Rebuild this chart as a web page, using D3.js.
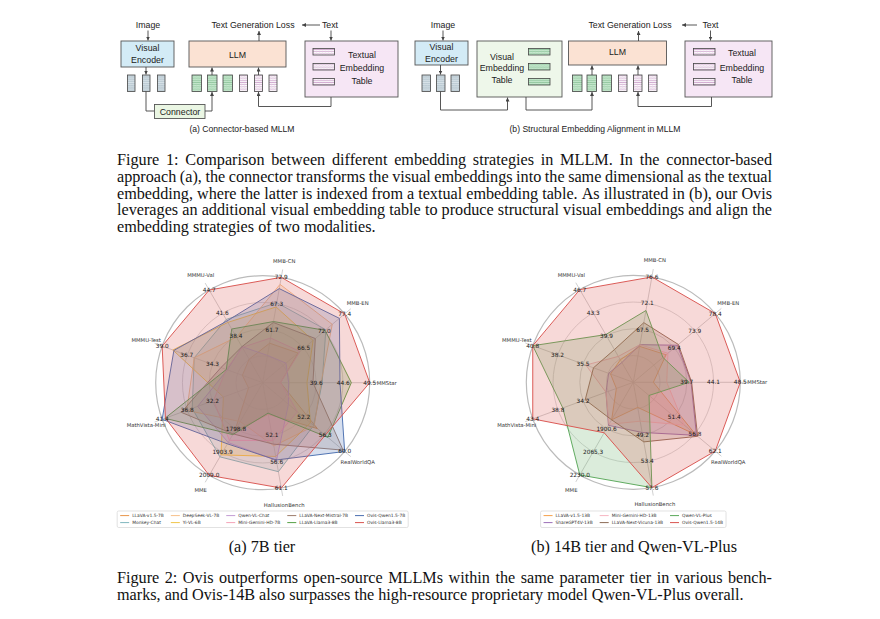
<!DOCTYPE html>
<html><head><meta charset="utf-8">
<script src="https://cdn.jsdelivr.net/npm/d3@7"></script>
<style>body{margin:0;background:#fff}svg{display:block}</style>
</head><body><svg id="fig" width="880" height="619"></svg>
<script>
// ---------------- data ----------------
const axes = ["MMStar","MMB-EN","MMB-CN","MMMU-Val","MMMU-Test","MathVista-Mini","MME","HallusionBench","RealWorldQA"];

const ticksA = [[39.6,44.6,49.5],[66.5,72.0,77.4],[61.7,67.3,72.9],[38.4,41.6,44.7],[34.3,36.7,39.0],[32.2,36.8,41.4],[1798.8,1903.9,2009.0],[52.1,56.6,61.1],[52.2,56.3,60.0]];
const modelsA = ["LLaVA-v1.5-7B","Monkey-Chat","DeepSeek-VL-7B","Yi-VL-6B","Qwen-VL-Chat","Mini-Gemini-HD-7B","LLaVA-Next-Mistral-7B","LLaVA-Llama3-8B","Ovis-Qwen1.5-7B","Ovis-Llama3-8B"];
const colorsA = ["#e8954a","#7fb7be","#f7c08a","#f0c548","#c39bd3","#f4a3b8","#9c7b6b","#55a045","#4a6fb0","#d9534f"];
const valuesA = [
  [33.0,65.0,58.9,35.3,31.5,25.6,1808,48.5,54.8],
  [40.7,72.4,67.5,40.7,36.0,35.9,1925,58.3,54.1],
  [40.5,74.1,71.4,38.3,36.0,36.9,1765,53.9,54.2],
  [37.9,69.0,66.6,40.3,38.0,30.2,1916,55.7,53.5],
  [34.5,61.8,56.3,37.0,32.9,34.9,1860,56.4,49.3],
  [33.0,65.5,60.0,36.9,33.0,32.0,1850,53.0,51.0],
  [39.0,69.6,63.3,37.0,33.5,37.9,1821,53.6,59.7],
  [46.1,72.2,63.5,39.4,33.0,40.9,1824,48.3,56.8],
  [44.0,76.0,70.5,40.5,37.9,41.4,1866,56.3,60.0],
  [49.5,77.4,72.9,44.7,39.0,40.8,2009.0,61.1,56.3]
];

const ticksB = [[39.7,44.1,48.5],[69.4,73.9,78.4],[67.5,72.1,76.6],[39.9,43.3,46.7],[35.5,38.2,40.8],[34.2,38.8,43.4],[1900.6,2065.3,2230.0],[49.2,53.4,57.6],[51.4,56.8,62.1]];
const modelsB = ["LLaVA-v1.5-13B","ShareGPT4V-13B","Mini-Gemini-HD-13B","LLaVA-Next-Vicuna-13B","Qwen-VL-Plus","Ovis-Qwen1.5-14B"];
const colorsB = ["#f5a04a","#9b6fb8","#f7b6c2","#8c6a55","#5aa85a","#d9534f"];
const valuesB = [
  [34.2,67.6,64.6,36.4,32.6,28.1,1838,44.8,57.0],
  [40.4,70.1,64.9,36.0,32.8,30.0,1877,48.8,57.2],
  [36.4,68.0,64.9,36.9,35.2,30.0,1870,47.0,54.0],
  [40.5,70.3,68.7,37.9,34.4,33.8,1838,50.3,57.5],
  [40.1,66.9,70.8,40.1,40.8,37.9,2230,57.6,44.8],
  [48.5,78.4,76.6,46.7,40.8,43.4,1930,57.6,62.1]
];

const fig1Lines = [
  "Figure 1: Comparison between different embedding strategies in MLLM. In the connector-based",
  "approach (a), the connector transforms the visual embeddings into the same dimensional as the textual",
  "embedding, where the latter is indexed from a textual embedding table. As illustrated in (b), our Ovis",
  "leverages an additional visual embedding table to produce structural visual embeddings and align the",
  "embedding strategies of two modalities."
];
const fig2Lines = [
  "Figure 2: Ovis outperforms open-source MLLMs within the same parameter tier in various bench-",
  "marks, and Ovis-14B also surpasses the high-resource proprietary model Qwen-VL-Plus overall."
];

// ---------------- drawing ----------------
const svg = d3.select("#fig");
svg.append("rect").attr("width",880).attr("height",619).attr("fill","#fff");
const defs = svg.append("defs");
function zig(id,bg,fg){
  const p = defs.append("pattern").attr("id",id).attr("patternUnits","userSpaceOnUse").attr("width",3).attr("height",2.2);
  p.append("rect").attr("width",3).attr("height",2.2).attr("fill",bg);
  p.append("path").attr("d","M0,1.6 L0.75,0.6 L1.5,1.6 L2.25,0.6 L3,1.6").attr("stroke",fg).attr("stroke-width",0.45).attr("fill","none");
}
zig("hv","#b9c9d2","#eef4f7");
zig("hg","#c8ead0","#6fb07e");
zig("hp","#ffffff","#b26fb0");
defs.append("marker").attr("id","arr").attr("viewBox","0 0 6 6").attr("refX",6).attr("refY",3)
  .attr("markerWidth",4).attr("markerHeight",4).attr("markerUnits","userSpaceOnUse").attr("orient","auto")
  .append("path").attr("d","M0,0 L6,3 L0,6 z").attr("fill","#444");

const dg = svg.append("g").attr("font-family","Liberation Sans, Arial, sans-serif").attr("fill","#222");
function box(x,y,w,h,fill){dg.append("rect").attr("x",x).attr("y",y).attr("width",w).attr("height",h).attr("fill",fill).attr("stroke","#555").attr("stroke-width",0.9);}
function txt(x,y,s,size=8.8,anchor="middle"){dg.append("text").attr("x",x).attr("y",y).attr("font-size",size).attr("text-anchor",anchor).attr("fill","#222").text(s);}
function line(pts,arrow=true){const p=dg.append("path").attr("d",d3.line()(pts)).attr("fill","none").attr("stroke","#444").attr("stroke-width",0.9);if(arrow)p.attr("marker-end","url(#arr)");}
function tok(x,w,pat){dg.append("rect").attr("x",x).attr("y",75).attr("width",w).attr("height",16.5).attr("fill",`url(#${pat})`).attr("stroke","#444").attr("stroke-width",0.8);}
function small(x,y,pat){dg.append("rect").attr("x",x).attr("y",y).attr("width",21.5).attr("height",6.5).attr("fill",`url(#${pat})`).attr("stroke","#444").attr("stroke-width",0.8);}

// diagram (a)
txt(148,27.5,"Image");
line([[148,30.5],[148,40.5]]);
box(121,41,53,26,"#d3ebf6"); txt(147.5,50.5,"Visual"); txt(147.5,62.5,"Encoder");
box(189,41,97,26,"#fbe2d3"); txt(237.5,58,"LLM");
box(305,41,93,56,"#f6e6f5");
[48.5,63.5,78.5].forEach(y=>small(313,y,"hp"));
txt(362,57.8,"Textual"); txt(362,71,"Embedding"); txt(362,84,"Table");
txt(253,28,"Text Generation Loss"); txt(330,28,"Text");
line([[259,41],[259,31]]); line([[320,25],[302,25]]); line([[331,30.5],[331,40.5]]);
[127.5,142.5,157.5].forEach(x=>tok(x,7.5,"hv"));
[192,207.5,223].forEach(x=>tok(x,9.5,"hg"));
[239.5,254.5,269].forEach(x=>tok(x,8,"hp"));
line([[146,67],[146,74.5]]);
line([[146,91.5],[146,111],[154.5,111]],false);
box(154.5,104.5,50.5,14,"#eaf6e3"); txt(180,114.6,"Connector");
line([[205,111],[212,111],[212,92]]);
line([[212,75],[212,67.5]]);
line([[258.5,75],[258.5,67.5]]);
line([[331,97],[331,106.5],[258.5,106.5],[258.5,92]]);
txt(242,131.5,"(a) Connector-based MLLM",8.6);

// diagram (b)
txt(443,27.5,"Image");
line([[443,30.5],[443,40.5]]);
box(415,41,53,24,"#d3ebf6"); txt(441.5,50,"Visual"); txt(441.5,62.3,"Encoder");
box(477,41,85,56,"#eef7ea");
txt(502,59.5,"Visual"); txt(502,71,"Embedding"); txt(502,83,"Table");
[48.5,63.5,78.5].forEach(y=>small(528.5,y,"hg"));
box(568.5,41,98,24,"#fbe2d3"); txt(617.5,55,"LLM");
box(685,41,87,56,"#f6e6f5");
[48.5,63.5,78.5].forEach(y=>small(693.5,y,"hp"));
txt(742,56,"Textual"); txt(742,70.5,"Embedding"); txt(742,83,"Table");
txt(630,28,"Text Generation Loss"); txt(710.5,28,"Text");
line([[638.5,41],[638.5,31]]); line([[697,25],[682,25]]); line([[710.5,30.5],[710.5,40.5]]);
[422,436.5,451].forEach(x=>tok(x,8.5,"hv"));
[572.5,587,602].forEach(x=>tok(x,9.5,"hg"));
[618.5,633.5,648.5].forEach(x=>tok(x,8.5,"hp"));
line([[440.5,65],[440.5,74.5]]);
line([[440.5,91.5],[440.5,110],[507.5,110],[507.5,97.5]]);
line([[526,97],[526,110],[592,110],[592,92]]);
line([[592,75],[592,65.5]]);
line([[638,75],[638,65.5]]);
line([[711.5,97],[711.5,106.5],[638,106.5],[638,92]]);
txt(595,131.5,"(b) Structural Embedding Alignment in MLLM",8.6);

// captions (justified word by word like LaTeX)
const FS = 16.2;
const cap = svg.append("g").attr("font-family","Liberation Serif, Times New Roman, serif").attr("font-size",FS).attr("fill","#111");
function measure(s){const t=cap.append("text").text(s);const w=t.node().getComputedTextLength();t.remove();return w;}
function para(lines,x,y0,dy,width){
  const space = measure("a a")-measure("aa");
  lines.forEach((s,i)=>{
    const y = y0+i*dy;
    if(i===lines.length-1){cap.append("text").attr("x",x).attr("y",y).text(s);return;}
    const words = s.split(" ");
    const ws = words.map(measure);
    const total = d3.sum(ws);
    let gap = (width-total)/(words.length-1);
    if(gap < space*0.6){
      cap.append("text").attr("x",x).attr("y",y).attr("textLength",width).attr("lengthAdjust","spacingAndGlyphs").text(s);
      return;
    }
    let xx = x;
    words.forEach((w,j)=>{cap.append("text").attr("x",xx).attr("y",y).text(w); xx += ws[j]+gap;});
  });
}
para(fig1Lines,117,165,16.75,655);
para(fig2Lines,117,583,16.75,655);
cap.append("text").attr("x",262).attr("y",552).attr("text-anchor","middle").text("(a) 7B tier");
cap.append("text").attr("x",634).attr("y",552).attr("text-anchor","middle").text("(b) 14B tier and Qwen-VL-Plus");

// radar
function radar(cx,cy,ticks,models,colors,values){
  const R = 107, n = axes.length;
  const g = svg.append("g").attr("font-family","DejaVu Sans, sans-serif");
  const ang = i => i*2*Math.PI/n;
  const scales = ticks.map(t=>d3.scaleLinear().domain([t[0],t[2]]).range([0.5*R,R]));
  const pt = (i,r)=>[cx+r*Math.cos(ang(i)), cy-r*Math.sin(ang(i))];
  [0.25,0.5,0.75,1].forEach(f=>g.append("circle").attr("cx",cx).attr("cy",cy).attr("r",f*R)
     .attr("fill","none").attr("stroke",f===1?"#bbb":"#cfcfcf").attr("stroke-width",f===1?1.2:0.8));
  axes.forEach((a,i)=>{
    g.append("line").attr("x1",cx).attr("y1",cy).attr("x2",pt(i,115)[0]).attr("y2",pt(i,115)[1]).attr("stroke","#c4c4c4").attr("stroke-width",0.8);
  });
  const lineGen = d3.line().curve(d3.curveLinearClosed);
  values.forEach((vals,k)=>{
    const pts = vals.map((v,i)=>pt(i,Math.max(0,scales[i](v))));
    g.append("path").attr("d",lineGen(pts)).attr("fill",colors[k]).attr("fill-opacity",0.22)
      .attr("stroke",colors[k]).attr("stroke-width",1).attr("stroke-opacity",0.95);
  });
  axes.forEach((a,i)=>{
    const p = pt(i,124);
    g.append("text").attr("x",p[0]).attr("y",p[1]).attr("text-anchor","middle").attr("dominant-baseline","central")
      .attr("font-size",5.3).attr("fill","#333").text(a);
    ticks[i].forEach(t=>{
      const q = pt(i,scales[i](t));
      g.append("text").attr("x",q[0]).attr("y",q[1]).attr("text-anchor","middle").attr("dominant-baseline","central")
        .attr("font-size",5.8).attr("fill","#1a1a1a").text(t.toFixed(1));
    });
  });
  // legend
  const fs = 4.4, handle = 9, pad = 3, colsp = 7, rowh = 7;
  const lg = g.append("g");
  const ncol = Math.ceil(models.length/2);
  const tmp = [];
  models.forEach(m=>{const t = lg.append("text").attr("font-size",fs).text(m); tmp.push(t.node().getComputedTextLength()); t.remove();});
  const colW = d3.range(ncol).map(c=>Math.max(tmp[2*c]||0,tmp[2*c+1]||0)+handle+pad);
  const totalW = d3.sum(colW)+colsp*(ncol-1)+6;
  const x0 = cx-totalW/2, y0 = 511;
  lg.append("rect").attr("x",x0).attr("y",y0).attr("width",totalW).attr("height",16.5).attr("rx",1.5)
    .attr("fill","#fff").attr("stroke","#d5d5d5").attr("stroke-width",0.7);
  let xc = x0+3;
  d3.range(ncol).forEach(c=>{
    [0,1].forEach(r=>{
      const k = 2*c+r; if(k>=models.length) return;
      const y = y0+4.6+r*rowh;
      lg.append("line").attr("x1",xc).attr("x2",xc+handle).attr("y1",y).attr("y2",y).attr("stroke",colors[k]).attr("stroke-width",1);
      lg.append("text").attr("x",xc+handle+pad).attr("y",y).attr("dominant-baseline","central").attr("font-size",fs).attr("fill","#333").text(models[k]);
    });
    xc += colW[c]+colsp;
  });
}
radar(262.7,382.7,ticksA,modelsA,colorsA,valuesA);
radar(633.3,382.3,ticksB,modelsB,colorsB,valuesB);
</script></body></html>
